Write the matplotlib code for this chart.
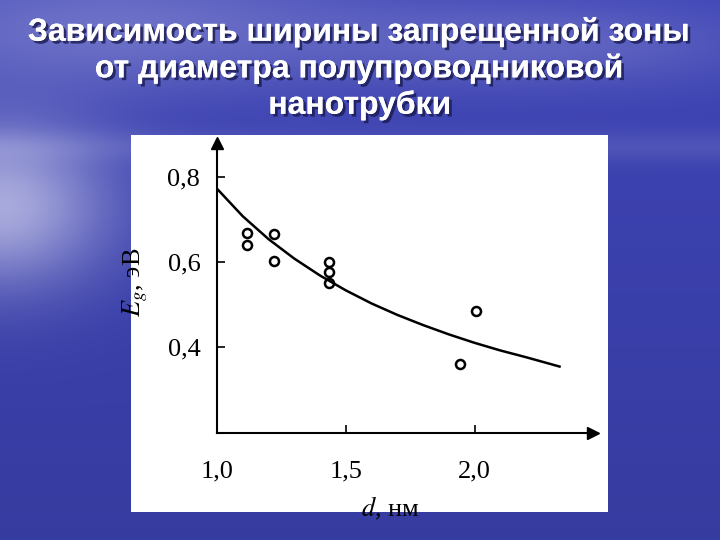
import matplotlib
matplotlib.use('Agg')
import matplotlib.pyplot as plt
import matplotlib.patheffects as pe
import numpy as np

plt.rcParams['mathtext.fontset'] = 'stix'

# measured points (d, nm ; Eg, eV)
d_points = [1.117, 1.117, 1.223, 1.223, 1.433, 1.433, 1.436, 1.943, 2.006]
eg_points = [0.668, 0.639, 0.666, 0.602, 0.599, 0.576, 0.550, 0.358, 0.484]

# fitted curve
d_curve = [1.0, 1.1, 1.2, 1.3, 1.4, 1.5, 1.6, 1.7, 1.8, 1.9, 2.0, 2.1, 2.2, 2.33]
eg_curve = [0.773, 0.708, 0.654, 0.608, 0.568, 0.533, 0.502, 0.475, 0.451,
            0.429, 0.409, 0.391, 0.375, 0.353]

x_ticks = [1.0, 1.5, 2.0]
x_labels = ['1,0', '1,5', '2,0']
y_ticks = [0.4, 0.6, 0.8]
y_labels = ['0,4', '0,6', '0,8']

title = 'Зависимость ширины запрещенной зоны\nот диаметра полупроводниковой\nнанотрубки'

W, H = 720, 540
fig = plt.figure(figsize=(7.2, 5.4), dpi=100)

# slide background: blue gradient with a hazy light area at the left
yy, xx = np.mgrid[0:H, 0:W] / np.array([H, W])[:, None, None]
base = np.array([62, 68, 182]) / 255.0
light = np.array([215, 215, 240]) / 255.0
glow = 0.7 * np.exp(-((xx - 0.0) / 0.15) ** 2 - ((yy - 0.38) / 0.15) ** 2)
glow += 0.30 * np.exp(-((xx - 0.15) / 0.35) ** 2 - ((yy - 0.05) / 0.12) ** 2)
glow += 0.22 * np.exp(-((xx - 0.75) / 0.30) ** 2 - ((yy - 0.08) / 0.08) ** 2)
glow += 0.12 * np.exp(-((yy - 0.27) / 0.03) ** 2)
glow = np.clip(glow, 0, 1)
shade = 1.0 - 0.12 * yy
img = (base[None, None, :] * shade[..., None]) * (1 - glow[..., None]) + light[None, None, :] * glow[..., None]
bg = fig.add_axes([0, 0, 1, 1])
bg.imshow(np.clip(img, 0, 1), aspect='auto', extent=[0, W, H, 0])
bg.set_xlim(0, W)
bg.set_ylim(H, 0)
bg.axis('off')

# white panel holding the graph
bg.add_patch(plt.Rectangle((131, 135), 477, 377, facecolor='white', edgecolor='none'))

bg.text(360, 69, title, ha='center', va='center', color='white',
        fontsize=23, fontweight='bold', family='Liberation Sans', linespacing=1.26,
        path_effects=[pe.withSimplePatchShadow(offset=(2, -2), shadow_rgbFace='#1a1a50', alpha=0.8),
                      pe.Normal()])

# graph
ax = fig.add_axes([217 / W, 1 - 433 / H, (593 - 217) / W, (433 - 143) / H])
ax.set_xlim(1.0, 2.46)
ax.set_ylim(0.196, 0.881)
ax.patch.set_alpha(0)
ax.plot(d_curve, eg_curve, color='black', lw=1.8)
ax.plot(d_points, eg_points, 'o', mfc='none', mec='black', mew=1.8, ms=6.5)

for s in ['top', 'right']:
    ax.spines[s].set_visible(False)
for s in ['left', 'bottom']:
    ax.spines[s].set_linewidth(1.5)
ax.plot(1, 0, '>k', ms=8, transform=ax.transAxes, clip_on=False)
ax.plot(0, 1, '^k', ms=8, transform=ax.transAxes, clip_on=False)

serif = 'Liberation Serif'
ax.set_xticks(x_ticks)
ax.set_xticklabels(x_labels, family=serif, fontsize=19)
ax.set_yticks(y_ticks)
ax.set_yticklabels(y_labels, family=serif, fontsize=19)
ax.tick_params(axis='x', direction='in', length=6, width=1.2, pad=20)
ax.tick_params(axis='y', direction='in', length=6, width=1.2, pad=12)
ax.xaxis.get_major_ticks()[0].tick1line.set_visible(False)

ax.set_xlabel(r'$d$, нм', family=serif, fontsize=19, labelpad=0)
ax.xaxis.set_label_coords((390 - 217) / (593 - 217), -(495 - 433) / (433 - 143))
ax.set_ylabel(r'$E_g$, эВ', family=serif, fontsize=19)
ax.yaxis.set_label_coords(-(217 - 150) / (593 - 217), (433 - 282) / (433 - 143))

fig.savefig('out.png', dpi=100)
